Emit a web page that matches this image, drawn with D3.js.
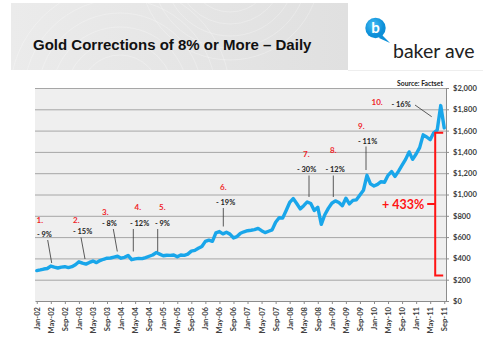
<!DOCTYPE html>
<html>
<head>
<meta charset="utf-8">
<script src="https://cdn.jsdelivr.net/npm/d3@7"></script>
<style>
html, body { margin: 0; padding: 0; background: #fff; }
svg text { font-family: Lato, "Open Sans", sans-serif; }
</style>
</head>
<body>
<svg id="chart" width="483" height="339"></svg>
<script>
// gold price, one value per month, Jan-02 .. Sep-11
const prices = [
	285, 292, 300, 305, 328, 318, 310, 318, 322, 314, 322, 340,
	368, 355, 346, 362, 375, 360, 380, 392, 402, 404, 412, 420,
	402, 410, 428, 388, 395, 400, 398, 408, 420, 432, 455, 440,
	425, 430, 428, 432, 415, 432, 428, 440, 468, 475, 495, 512,
	560, 572, 560, 640, 652, 630, 645, 628, 592, 605, 636, 650,
	660, 664, 670, 682, 660, 642, 655, 668, 740, 782, 778, 850,
	925, 962, 915, 865, 895, 930, 915, 850, 880, 720, 810, 870,
	918, 940, 925, 895, 965, 912, 945, 950, 995, 1040, 1180, 1100,
	1080, 1095, 1120, 1115, 1180, 1215, 1170, 1220, 1275, 1330, 1400, 1330,
	1380, 1440, 1560, 1540, 1515, 1580, 1605, 1835, 1625
]
const months = d3.timeMonth.range(new Date(2002, 0, 1), new Date(2011, 9, 1))
const yTicks = [0, 200, 400, 600, 800, 1000, 1200, 1400, 1600, 1800, 2000]
const corrNums = ['1.', '2.', '3.', '4.', '5.', '6.', '7.', '8.', '9.', '10.']
const corrPcts = ['- 9%', '- 15%', '- 8%', '- 12%', '- 9%', '- 19%', '- 30%', '- 12%', '- 11%', '- 16%']
const gainLabel = '+ 433%'
const gainRange = [240, 1580]

// where each correction label sits (pixels) and its leader line
const noteLayout = [
	{ nx: 36.5, ny: 220, px: 37, py: 234.5, l: [47.7, 240, 51.7, 263] },
	{ nx: 73, ny: 220, px: 73, py: 231, l: [81, 237.5, 85, 259] },
	{ nx: 102, ny: 212, px: 102, py: 223, l: [113.3, 229, 117.3, 251.5] },
	{ nx: 134.5, ny: 207, px: 130, py: 223, l: [133.3, 229, 133.3, 251.5] },
	{ nx: 159, ny: 207, px: 155, py: 223, l: [157.7, 229, 157.7, 251.5] },
	{ nx: 220, ny: 187.5, px: 216, py: 202.5, l: [223.3, 208, 223.3, 226.5] },
	{ nx: 303, ny: 154, px: 297, py: 169.5, l: [309, 175.5, 309, 197] },
	{ nx: 330, ny: 150.5, px: 325.5, py: 169.5, l: [333.3, 175.5, 333.3, 197] },
	{ nx: 358, ny: 126, px: 358, py: 141, l: [366, 146.5, 366, 170] },
	{ nx: 371.5, ny: 102, px: 391.5, py: 104, l: [415, 105, 431.7, 116.7] }
]

const svg = d3.select('#chart')
const plot = { left: 35, right: 446, top: 88, bottom: 301 }

// header band
const defs = svg.append('defs')
const hg = defs.append('linearGradient').attr('id', 'hdr')
hg.append('stop').attr('offset', '0%').attr('stop-color', '#ebebeb')
hg.append('stop').attr('offset', '100%').attr('stop-color', '#e0e0e0')
const bg = defs.append('radialGradient').attr('id', 'bub').attr('cx', '40%').attr('cy', '35%')
bg.append('stop').attr('offset', '0%').attr('stop-color', '#45bdf5')
bg.append('stop').attr('offset', '100%').attr('stop-color', '#0c8fd8')

svg.append('rect')
	.attr('x', 11).attr('y', 3).attr('width', 337).attr('height', 67)
	.attr('fill', 'url(#hdr)')

const swirl = svg.append('g').attr('fill', 'none').attr('stroke', '#fff').attr('stroke-opacity', 0.25)
d3.range(6).forEach(k => {
	swirl.append('circle').attr('cx', 120).attr('cy', 95).attr('r', 40 + k * 14)
	swirl.append('circle').attr('cx', 230).attr('cy', -30).attr('r', 30 + k * 12)
})
svg.append('rect').attr('x', 0).attr('y', 70).attr('width', 483).attr('height', 12).attr('fill', '#fff')
svg.append('rect').attr('x', 0).attr('y', 0).attr('width', 11).attr('height', 70).attr('fill', '#fff')
svg.append('rect').attr('x', 348).attr('y', 0).attr('width', 135).attr('height', 70).attr('fill', '#fff')
svg.append('rect').attr('x', 0).attr('y', 0).attr('width', 483).attr('height', 3).attr('fill', '#fff')
svg.append('line').attr('x1', 348).attr('x2', 483).attr('y1', 70.5).attr('y2', 70.5)
	.attr('stroke', '#eee')

svg.append('text')
	.attr('x', 33).attr('y', 50)
	.style('font-family', '"Liberation Sans", Arial, sans-serif')
	.attr('font-weight', 'bold')
	.attr('font-size', 15)
	.attr('fill', '#111')
	.text('Gold Corrections of 8% or More \u2013 Daily')

// logo
const logo = svg.append('g')
logo.append('path')
	.attr('d', 'M381,34 L390,43 L379,38 Z')
	.attr('fill', '#0c8fd8')
logo.append('circle').attr('cx', 375.5).attr('cy', 28).attr('r', 10.2).attr('fill', 'url(#bub)')
logo.append('text')
	.attr('x', 375.5).attr('y', 33)
	.attr('text-anchor', 'middle')
	.attr('font-size', 15).attr('font-weight', 'bold')
	.attr('fill', '#fff')
	.text('b')
logo.append('text')
	.attr('x', 393).attr('y', 58)
	.attr('font-size', 19.5)
	.attr('fill', '#222')
	.text('baker ave')

// plot area
svg.append('rect')
	.attr('x', plot.left).attr('y', plot.top)
	.attr('width', plot.right - plot.left).attr('height', plot.bottom - plot.top)
	.attr('fill', '#efefef')

const x = d3.scalePoint()
	.domain(d3.range(prices.length))
	.range([plot.left, plot.right])
	.padding(0.5)

const y = d3.scaleLinear()
	.domain([0, 2000])
	.range([plot.bottom, plot.top])

svg.append('g')
	.selectAll('line')
	.data(yTicks.filter(d => d > 0))
	.join('line')
	.attr('x1', plot.left).attr('x2', plot.right)
	.attr('y1', d => y(d) + 0.5).attr('y2', d => y(d) + 0.5)
	.attr('stroke', '#a6a6a6')
	.attr('stroke-width', 1)

// right value axis
const yAxis = svg.append('g')
	.attr('transform', `translate(${plot.right},0)`)
	.call(d3.axisRight(y).tickValues(yTicks).tickSize(3).tickPadding(4)
		.tickFormat(d => '$' + d3.format(',')(d)))
yAxis.select('.domain').attr('stroke', '#8c8c8c')
yAxis.selectAll('.tick line').attr('stroke', '#8c8c8c')
yAxis.selectAll('text')
	.attr('font-family', 'Lato, sans-serif')
	.attr('font-size', 7.6)
	.attr('font-weight', 'bold')
	.attr('fill', '#404040')

// category axis, labelled every fourth month
const fmt = d3.timeFormat('%b-%y')
const labelled = d3.range(prices.length).filter(i => i % 4 === 0)
const xAxis = svg.append('g')
	.attr('transform', `translate(0,${plot.bottom})`)
	.call(d3.axisBottom(x).tickValues(labelled).tickSize(3).tickSizeOuter(0)
		.tickFormat(i => fmt(months[i])))
xAxis.select('.domain').attr('stroke', '#8c8c8c')
xAxis.selectAll('.tick line').attr('stroke', '#8c8c8c')
xAxis.selectAll('text')
	.attr('font-family', 'Lato, sans-serif')
	.attr('font-size', 7.6)
	.attr('font-weight', 'bold')
	.attr('fill', '#404040')
	.attr('text-anchor', 'end')
	.attr('dy', '0.32em')
	.attr('transform', 'translate(0,3) rotate(-90)')
	.attr('x', -3).attr('y', 0)

// gold line
svg.append('path')
	.datum(prices)
	.attr('fill', 'none')
	.attr('stroke', '#19a6ea')
	.attr('stroke-width', 3.4)
	.attr('stroke-linejoin', 'round')
	.attr('stroke-linecap', 'round')
	.attr('d', d3.line().x((d, i) => x(i)).y(d => y(d)))

svg.append('text')
	.attr('x', 443).attr('y', 86)
	.attr('text-anchor', 'end')
	.attr('font-size', 6.8).attr('font-weight', 'bold')
	.attr('fill', '#222')
	.text('Source: Factset')

// correction notes
const notes = svg.append('g')
noteLayout.forEach((p, i) => {
	notes.append('line')
		.attr('x1', p.l[0]).attr('y1', p.l[1]).attr('x2', p.l[2]).attr('y2', p.l[3])
		.attr('stroke', '#333').attr('stroke-width', 0.8)
	notes.append('text')
		.attr('x', p.nx).attr('y', p.ny).attr('dy', '0.35em')
		.attr('font-size', 8).attr('font-weight', 'bold')
		.attr('fill', '#f0262a')
		.text(corrNums[i])
	notes.append('text')
		.attr('x', p.px).attr('y', p.py).attr('dy', '0.35em')
		.attr('font-size', 7.4).attr('font-weight', 'bold')
		.attr('fill', '#222')
		.text(corrPcts[i])
})

// +433% bracket
const bx = x(113) + 1.5
const yTop = y(gainRange[1])
const yBot = y(gainRange[0])
const yMid = (yTop + yBot) / 2
svg.append('path')
	.attr('d', `M${bx + 8},${yTop} H${bx} V${yBot} H${bx + 8} M${bx},${yMid} H${bx - 8}`)
	.attr('fill', 'none')
	.attr('stroke', '#ff1414')
	.attr('stroke-width', 2)
svg.append('text')
	.attr('x', bx - 11).attr('y', yMid).attr('dy', '0.36em')
	.attr('text-anchor', 'end')
	.attr('font-size', 12.5).attr('font-weight', 'bold')
	.attr('fill', '#ff1414')
	.text(gainLabel)
</script>
</body>
</html>
